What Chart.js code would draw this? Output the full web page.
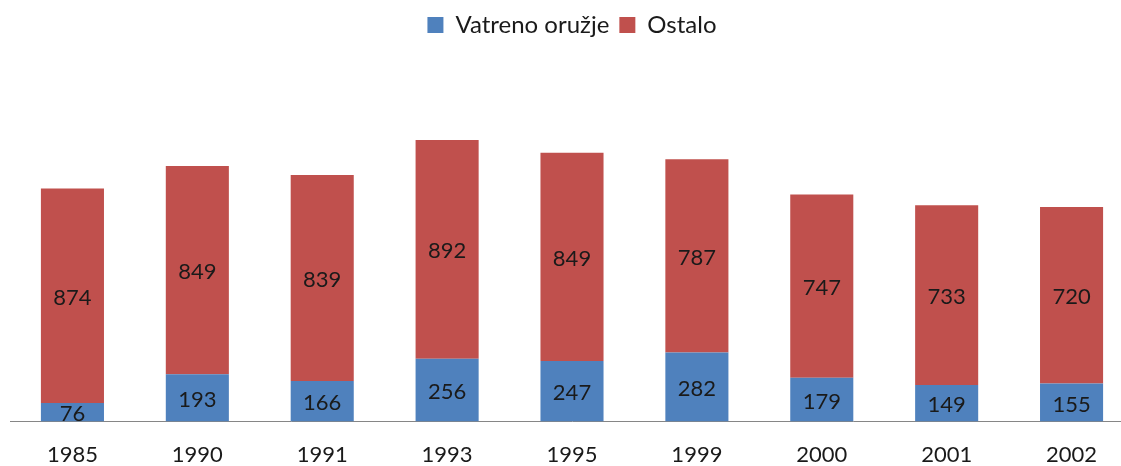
<!DOCTYPE html>
<html>
<head>
<meta charset="utf-8">
<script src="https://cdn.jsdelivr.net/npm/chart.js@4"></script>
<style>
  html, body { margin: 0; padding: 0; background: #fff; overflow: hidden; }
  #wrap { width: 1135px; height: 488px; }
</style>
</head>
<body>
<div id="wrap"><canvas id="grafico"></canvas></div>
<script>
// podaci
const godine = ['1985', '1990', '1991', '1993', '1995', '1999', '2000', '2001', '2002'];
const vatrenoOruzje = [76, 193, 166, 256, 247, 282, 179, 149, 155];
const ostalo = [874, 849, 839, 892, 849, 787, 747, 733, 720];

const FONT = "Lato, 'Open Sans', sans-serif";

// oznake vrijednosti u sredini svakog stupca
const oznakePlugin = {
    id: 'oznake',
    afterDatasetsDraw(chart) {
        const ctx = chart.ctx;
        ctx.save();
        ctx.font = '22px ' + FONT;
        ctx.fillStyle = '#1a1a1a';
        ctx.textAlign = 'center';
        ctx.textBaseline = 'middle';
        chart.data.datasets.forEach((ds, i) => {
            chart.getDatasetMeta(i).data.forEach((bar, j) => {
                const y = (bar.y + bar.base) / 2;
                ctx.fillText(String(ds.data[j]), bar.x, y + 2);
            });
        });
        ctx.restore();
    }
};

new Chart(document.getElementById('grafico'), {
    type: 'bar',
    data: {
        labels: godine,
        datasets: [
            { label: 'Vatreno oružje', data: vatrenoOruzje, backgroundColor: '#4F81BD' },
            { label: 'Ostalo', data: ostalo, backgroundColor: '#C0504D' }
        ]
    },
    options: {
        responsive: true,
        maintainAspectRatio: false,
        animation: false,
        layout: { padding: { left: 10, right: 1, top: 3, bottom: 0 } },
        datasets: { bar: { categoryPercentage: 1, barPercentage: 0.505 } },
        scales: {
            x: {
                stacked: true,
                grid: { display: false, drawTicks: false },
                border: { display: true, color: '#868686', width: 1 },
                ticks: { color: '#1a1a1a', font: { family: FONT, size: 22 }, padding: 20, maxRotation: 0 }
            },
            y: {
                stacked: true,
                display: false,
                min: 0,
                max: 1527
            }
        },
        plugins: {
            legend: {
                position: 'top',
                labels: {
                    color: '#1a1a1a',
                    font: { family: FONT, size: 24 },
                    boxWidth: 16,
                    boxHeight: 16,
                    padding: 10
                }
            },
            tooltip: { enabled: false }
        }
    },
    plugins: [oznakePlugin]
});
</script>
</body>
</html>
